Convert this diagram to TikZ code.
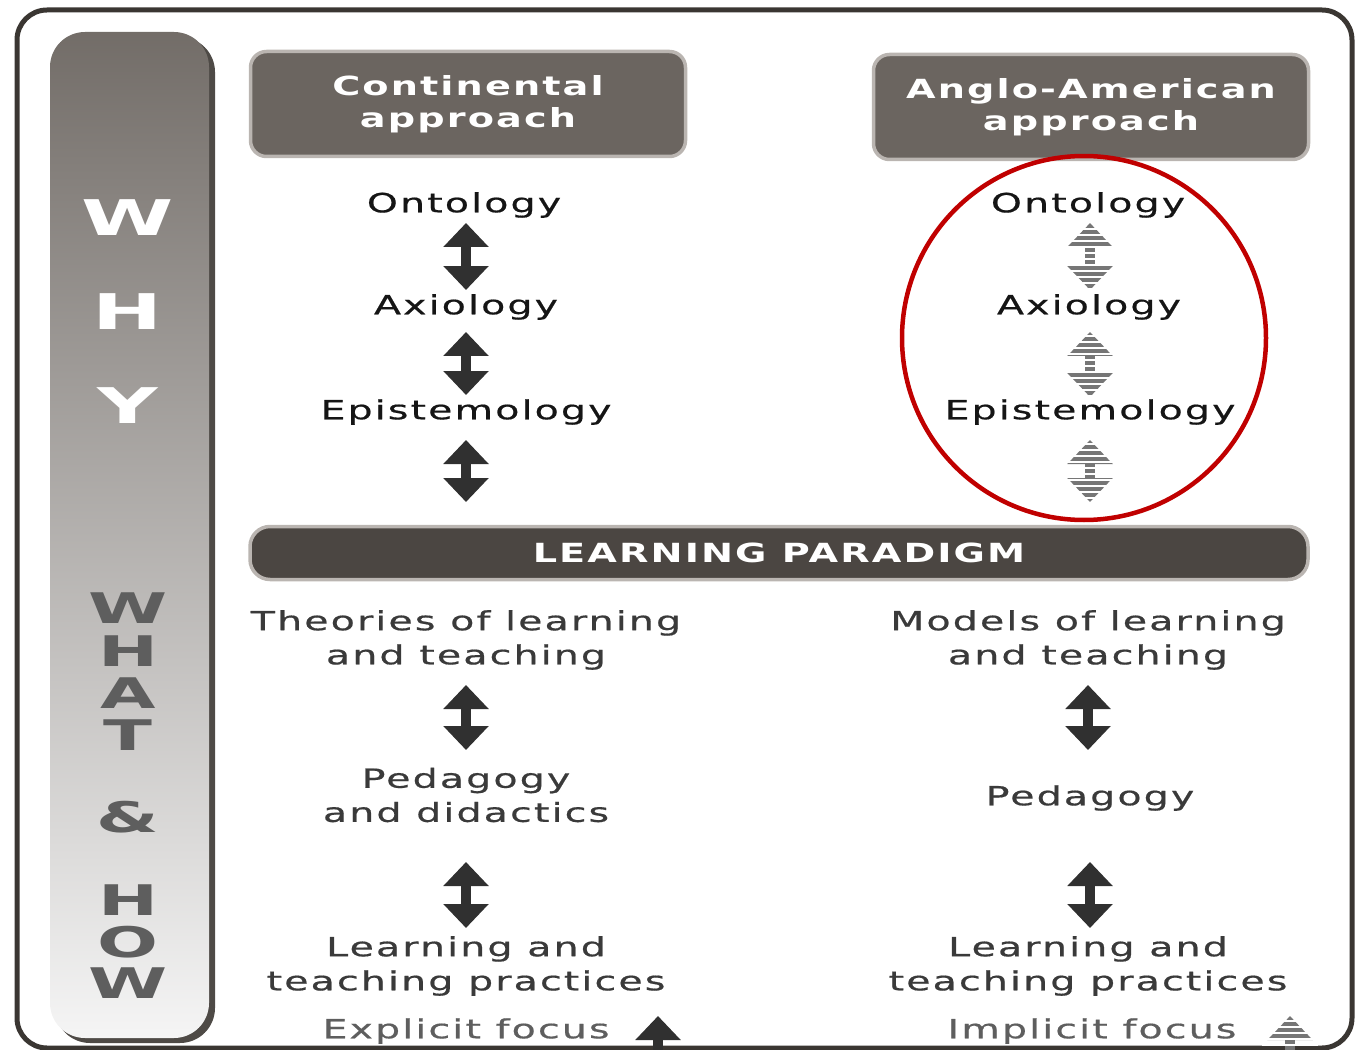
\documentclass[tikz,border=0pt]{standalone}
\usepackage{fontspec}
\setmainfont{DejaVu Sans}
\newfontfamily\lblfont[FakeStretch=1.5,LetterSpace=8,FakeBold=0.6]{DejaVu Sans}
\newfontfamily\hdrfont[FakeStretch=1.45,LetterSpace=8]{DejaVu Sans Bold}
\newfontfamily\sidefont[FakeStretch=1.7]{DejaVu Sans Bold}
\usetikzlibrary{arrows.meta,calc}
\definecolor{framegray}{HTML}{3A3632}
\definecolor{hdrgray}{HTML}{6B6560}
\definecolor{bargray}{HTML}{4B4642}
\definecolor{halo}{HTML}{BAB5B1}
\definecolor{txtdark}{HTML}{151515}
\definecolor{txtmid}{HTML}{3A3A3A}
\definecolor{arrowdark}{HTML}{303030}
\definecolor{arrowlight}{HTML}{767676}
\definecolor{howgray}{HTML}{5E5E5E}
\definecolor{hlred}{HTML}{C00000}

\begin{document}
\begin{tikzpicture}[x=0.1mm,y=-0.1mm,
  >={Triangle[length=2.4mm,width=4.4mm]},
  hdr/.style={fill=hdrgray,draw=halo,line width=0.35mm,rounded corners=1.6mm,text=white,
    font=\hdrfont\fontsize{7.5}{9.1}\selectfont,align=center,minimum width=43.5mm,minimum height=10.5mm},
  bar/.style={fill=bargray,draw=halo,line width=0.35mm,rounded corners=2mm,text=white,
    font=\hdrfont\fontsize{7.5}{9}\selectfont,minimum width=105.8mm,minimum height=5.3mm},
  lbl/.style={inner sep=0pt,font=\lblfont\fontsize{7.5}{9.7}\selectfont,align=center,text=txtdark},
  lbltwo/.style={lbl,text=txtmid},
  lblfoc/.style={lbl,text=howgray},
  whyltr/.style={inner sep=0pt,text=white,font=\sidefont\fontsize{14}{14}\selectfont},
  howltr/.style={inner sep=0pt,text=howgray,font=\sidefont\fontsize{12}{12}\selectfont},
  dbl/.style={line width=1mm,draw=arrowdark,fill=arrowdark,<->},
  dblstr/.style={dbl,draw=arrowlight,fill=arrowlight},
  stripe/.style={white,line width=0.22mm},
  hl/.style={circle,draw=hlred,line width=0.45mm,minimum size=36.4mm,inner sep=0pt}]
\useasboundingbox (0,0) rectangle (1361,1050);
\draw[framegray,line width=0.5mm,rounded corners=3mm] (17,10) rectangle (1352,1048);
\fill[framegray!90,rounded corners=3.5mm] (55,37) rectangle (215,1043);
\shade[top color=hdrgray!95,middle color=white!62!hdrgray,bottom color=white!96!black,rounded corners=3.5mm] (50,32) rectangle (209,1038);
\foreach \c/\y [count=\i] in {W/218,H/312,Y/406}
  \node[whyltr] (why\i) at (128,\y) {\c};
\foreach \c/\y [count=\i] in {W/608,H/651,A/693,T/735,\&/817,H/900,O/942,W/983}
  \node[howltr] (how\i) at (128,\y) {\c};

\node[hdr] (cont) at (468,104) {Continental\\approach};
\node[hdr] (angl) at (1091,107) {Anglo-American\\approach};
\node[lbl] (ont) at (464,205) {Ontology};
\node[lbl] (axi) at (466,307) {Axiology};
\node[lbl] (epi) at (466,412) {Epistemology};
\node[lbl] (ontR) at (1088,205) {Ontology};
\node[lbl] (axiR) at (1089,307) {Axiology};
\node[lbl] (epiR) at (1090,412) {Epistemology};
\node[bar] (lp) at (779,553) {LEARNING PARADIGM};
\node[lbltwo] (theo) at (466,640) {Theories of learning\\and teaching};
\node[lbltwo] (modl) at (1088,640) {Models of learning\\and teaching};
\node[lbltwo] (ped) at (466,795) {Pedagogy\\and didactics};
\node[lbltwo] (pedR) at (1090,798) {Pedagogy};
\node[lbltwo] (prac) at (466,966) {Learning and\\teaching practices};
\node[lbltwo] (pracR) at (1088,966) {Learning and\\teaching practices};
\node[lblfoc] (exf) at (466,1031) {Explicit focus};
\node[lblfoc] (imf) at (1092,1031) {Implicit focus};

\draw[dbl,shorten <=1.8mm,shorten >=1.7mm] (ont.center -| epi.center) -- (axi.center -| epi.center);
\draw[dbl,shorten <=2.5mm,shorten >=1.7mm] (axi.center -| epi.center) -- (epi.center);
\draw[dbl,shorten <=2.8mm,shorten >=5.1mm] (epi.center) -- (epi.center |- lp.center);
\draw[dbl,shorten <=4.5mm,shorten >=4.5mm] (theo.center) -- (ped.center);
\draw[dbl,shorten <=6.7mm,shorten >=3.8mm] (ped.center) -- (prac.center);
\draw[dbl,shorten <=4.5mm,shorten >=4.8mm] (modl.center) -- (modl.center |- pedR.center);
\draw[dbl,shorten <=6.4mm,shorten >=3.8mm] (pedR.center) -- (pedR.center |- pracR.center);
\draw[dbl,->] ($(exf.center)+(192,30)$) -- ($(exf.center)+(192,-15)$);

\draw[dblstr,shorten <=1.8mm,shorten >=1.7mm] (ontR.center -| epiR.center) -- (axiR.center -| epiR.center);
\draw[dblstr,shorten <=2.5mm,shorten >=1.5mm] (axiR.center -| epiR.center) -- (epiR.center);
\draw[dblstr,shorten <=2.8mm,shorten >=5.1mm] (epiR.center) -- (epiR.center |- lp.center);
\draw[dblstr,->] ($(imf.center)+(198,30)$) -- ($(imf.center)+(198,-15)$);
\foreach \n/\s in {ontR/24,axiR/29,epiR/32}
  \foreach \k in {0,...,10}
    \draw[stripe] ($(\n.center -| epiR.center)+(-28,\s+\k*6)$) -- ++(56,0);
\foreach \k in {0,...,5}
  \draw[stripe] ($(imf.center)+(170,-10+\k*6)$) -- ++(56,0);

\node[hl] (circ) at (1084,338) {};
\end{tikzpicture}
\end{document}
